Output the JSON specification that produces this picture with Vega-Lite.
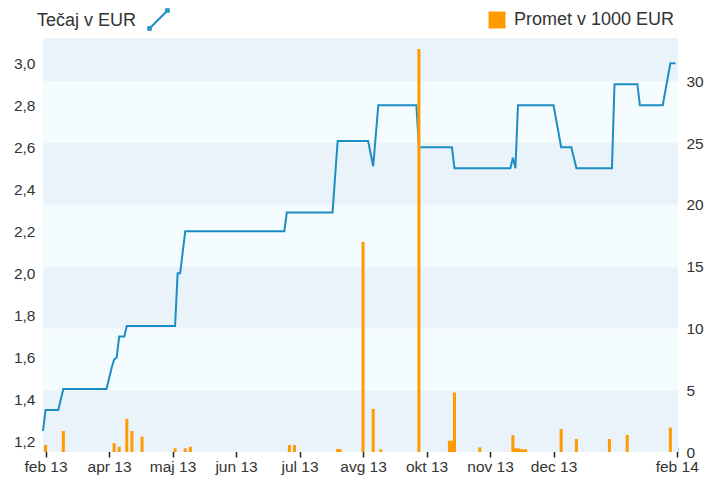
{
  "$schema": "https://vega.github.io/schema/vega-lite/v6.json",
  "width": 645,
  "height": 414,
  "autosize": {"type": "none"},
  "padding": {"left": 38, "top": 38, "right": 23, "bottom": 26},
  "background": "white",
  "config": {
    "view": {"stroke": null},
    "font": "Liberation Sans",
    "axis": {"labelFont": "Liberation Sans", "labelColor": "#333", "labelFontSize": 15.5, "grid": false, "domain": false},
    "legend": {"labelFont": "Liberation Sans", "titleFont": "Liberation Sans", "labelColor": "#333", "titleColor": "#333", "titleFontWeight": "normal", "labelFontSize": 18, "titleFontSize": 18, "labelLimit": 300, "titleLimit": 300}
  },
  "datasets": {
    "pasovi": [
      {"od": 0, "do": 5, "pas": "a"},
      {"od": 5, "do": 10, "pas": "b"},
      {"od": 10, "do": 15, "pas": "a"},
      {"od": 15, "do": 20, "pas": "b"},
      {"od": 20, "do": 25, "pas": "a"},
      {"od": 25, "do": 30, "pas": "b"},
      {"od": 30, "do": 33.5, "pas": "a"}
    ],
    "tecaj": [
      {"dan": 0, "tecaj": 1.25}, {"dan": 1, "tecaj": 1.35}, {"dan": 6, "tecaj": 1.35}, {"dan": 8, "tecaj": 1.45},
      {"dan": 25, "tecaj": 1.45}, {"dan": 27, "tecaj": 1.55}, {"dan": 28, "tecaj": 1.59}, {"dan": 29, "tecaj": 1.60},
      {"dan": 30, "tecaj": 1.70}, {"dan": 32, "tecaj": 1.70}, {"dan": 33, "tecaj": 1.75}, {"dan": 52, "tecaj": 1.75},
      {"dan": 53, "tecaj": 2.00}, {"dan": 54, "tecaj": 2.00}, {"dan": 56, "tecaj": 2.20}, {"dan": 95, "tecaj": 2.20},
      {"dan": 96, "tecaj": 2.29}, {"dan": 114, "tecaj": 2.29}, {"dan": 116, "tecaj": 2.63}, {"dan": 128, "tecaj": 2.63},
      {"dan": 130, "tecaj": 2.51}, {"dan": 132, "tecaj": 2.80}, {"dan": 147, "tecaj": 2.80}, {"dan": 148, "tecaj": 2.60},
      {"dan": 161, "tecaj": 2.60}, {"dan": 162, "tecaj": 2.50}, {"dan": 184, "tecaj": 2.50}, {"dan": 185, "tecaj": 2.55},
      {"dan": 186, "tecaj": 2.50}, {"dan": 187, "tecaj": 2.80}, {"dan": 201, "tecaj": 2.80}, {"dan": 204, "tecaj": 2.60},
      {"dan": 208, "tecaj": 2.60}, {"dan": 210, "tecaj": 2.50}, {"dan": 224, "tecaj": 2.50}, {"dan": 225, "tecaj": 2.90},
      {"dan": 234, "tecaj": 2.90}, {"dan": 235, "tecaj": 2.80}, {"dan": 244, "tecaj": 2.80}, {"dan": 247, "tecaj": 3.00},
      {"dan": 249, "tecaj": 3.00}
    ],
    "promet": [
      {"dan": 1, "promet": 0.57}, {"dan": 8, "promet": 1.7}, {"dan": 28, "promet": 0.72}, {"dan": 30, "promet": 0.42},
      {"dan": 33, "promet": 2.68}, {"dan": 35, "promet": 1.7}, {"dan": 39, "promet": 1.24}, {"dan": 52, "promet": 0.3},
      {"dan": 56, "promet": 0.3}, {"dan": 58, "promet": 0.42}, {"dan": 97, "promet": 0.57}, {"dan": 99, "promet": 0.57},
      {"dan": 116, "promet": 0.24}, {"dan": 117, "promet": 0.24}, {"dan": 126, "promet": 17.0}, {"dan": 130, "promet": 3.49},
      {"dan": 133, "promet": 0.22}, {"dan": 148, "promet": 32.6}, {"dan": 160, "promet": 0.92}, {"dan": 161, "promet": 0.92},
      {"dan": 162, "promet": 4.81}, {"dan": 172, "promet": 0.38}, {"dan": 185, "promet": 1.35}, {"dan": 186, "promet": 0.3},
      {"dan": 187, "promet": 0.3}, {"dan": 188, "promet": 0.22}, {"dan": 189, "promet": 0.22}, {"dan": 190, "promet": 0.22},
      {"dan": 204, "promet": 1.86}, {"dan": 210, "promet": 1.05}, {"dan": 223, "promet": 1.05}, {"dan": 230, "promet": 1.38},
      {"dan": 247, "promet": 1.97}
    ]
  },
  "layer": [
    {
      "data": {"name": "pasovi"},
      "mark": {"type": "rect"},
      "encoding": {
        "x": {"datum": 0, "type": "quantitative", "scale": {"domain": [0, 250], "nice": false, "zero": false}, "title": null},
        "x2": {"datum": 250},
        "y": {"field": "od", "type": "quantitative", "scale": {"domain": [0, 33.5], "nice": false, "zero": false}, "axis": null},
        "y2": {"field": "do"},
        "color": {"field": "pas", "type": "nominal", "scale": {"domain": ["a", "b"], "range": ["#eaf2fa", "#f5fcff"]}, "legend": null}
      }
    },
    {
      "data": {"name": "tecaj"},
      "mark": {"type": "line", "strokeWidth": 2},
      "encoding": {
        "x": {
          "field": "dan", "type": "quantitative", "scale": {"domain": [0, 250], "nice": false, "zero": false}, "title": null,
          "axis": {
            "orient": "bottom", "values": [1, 26, 51, 76, 101, 126, 151, 176, 201, 249.5],
            "labelExpr": "datum.value < 10 ? 'feb 13' : datum.value < 30 ? 'apr 13' : datum.value < 60 ? 'maj 13' : datum.value < 90 ? 'jun 13' : datum.value < 110 ? 'jul 13' : datum.value < 140 ? 'avg 13' : datum.value < 160 ? 'okt 13' : datum.value < 190 ? 'nov 13' : datum.value < 220 ? 'dec 13' : 'feb 14'",
            "ticks": true, "tickColor": "#222", "tickSize": 10, "tickWidth": 1.5, "offset": -5, "labelPadding": 2,
            "labelFlush": false, "labelOverlap": false, "grid": false, "domain": false
          }
        },
        "y": {
          "field": "tecaj", "type": "quantitative", "scale": {"domain": [1.15, 3.12], "nice": false, "zero": false}, "title": null,
          "axis": {"orient": "left", "values": [1.2, 1.4, 1.6, 1.8, 2.0, 2.2, 2.4, 2.6, 2.8, 3.0], "labelExpr": "replace(format(datum.value, '.1f'), '.', ',')", "ticks": false, "domain": false, "grid": false, "labelPadding": 3}
        },
        "color": {
          "datum": "Tečaj v EUR", "type": "nominal", "scale": {"range": ["#1b8ec4"]},
          "legend": {"orient": "none", "legendX": -1, "legendY": -30, "title": "Tečaj v EUR", "titleOrient": "left", "titlePadding": 10, "labelExpr": "''", "symbolType": "M-0.85,0.85L0.85,-0.85M-1,0.75h0.25v0.25h-0.25zM0.75,-1h0.25v0.25h-0.25z", "symbolSize": 420, "symbolStrokeWidth": 2}
        }
      }
    },
    {
      "data": {"name": "promet"},
      "mark": {"type": "bar", "size": 3},
      "encoding": {
        "x": {"field": "dan", "type": "quantitative", "scale": {"domain": [0, 250], "nice": false, "zero": false}, "title": null},
        "y": {
          "field": "promet", "type": "quantitative", "scale": {"domain": [0, 33.5], "nice": false, "zero": false}, "title": null,
          "axis": {"orient": "right", "values": [0, 5, 10, 15, 20, 25, 30], "ticks": false, "domain": false, "grid": false, "labelPadding": 3}
        },
        "color": {
          "datum": "Promet v 1000 EUR", "type": "nominal", "scale": {"range": ["#ff9a00"]},
          "legend": {"orient": "none", "legendX": 450, "legendY": -27, "title": null, "symbolType": "square", "symbolSize": 289, "symbolStrokeWidth": 0, "labelOffset": 8, "labelLimit": 300}
        }
      }
    }
  ],
  "resolve": {"scale": {"y": "independent", "color": "independent"}, "legend": {"color": "independent"}}
}
